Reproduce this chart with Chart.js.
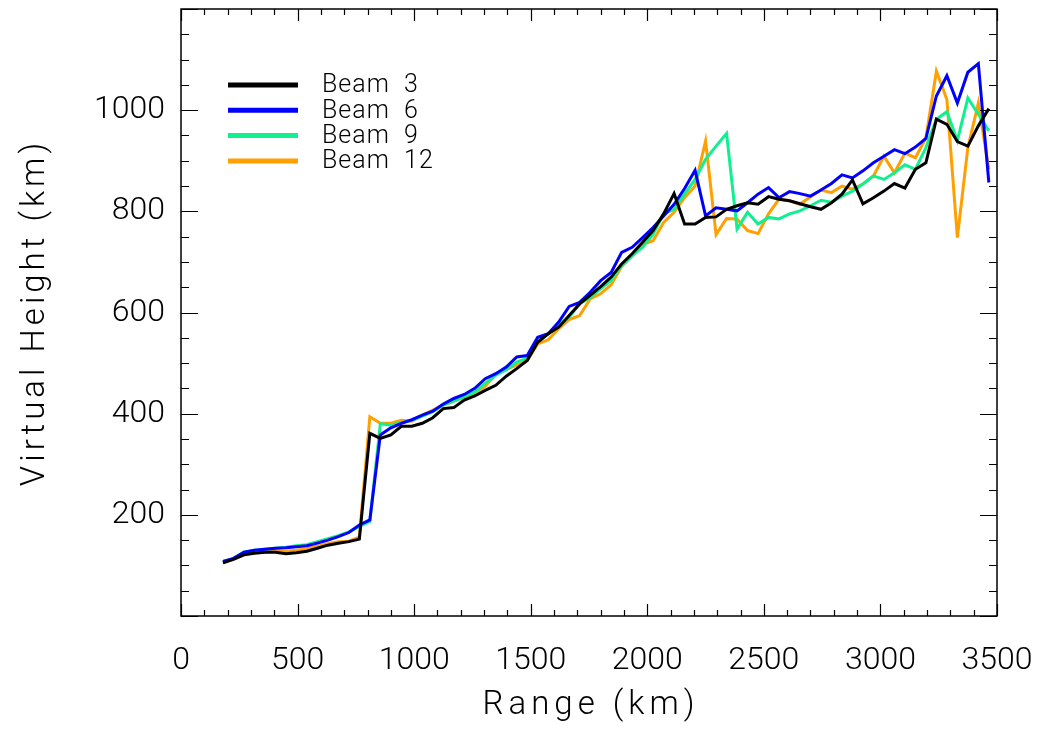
<!DOCTYPE html>
<html>
<head>
<meta charset="utf-8">
<script src="https://cdn.jsdelivr.net/npm/chart.js@4"></script>
<style>
  html, body { margin: 0; padding: 0; background: #fff; }
  #wrap { width: 1049px; height: 735px; }
</style>
</head>
<body>
<div id="wrap"><canvas id="myChart" width="1049" height="735"></canvas></div>
<script>
// Range gates (km)
const ranges = [180, 225, 270, 315, 360, 405, 450, 495, 540, 585, 630, 675, 720, 765, 810, 855, 900, 945, 990, 1035,
    1080, 1125, 1170, 1215, 1260, 1305, 1350, 1395, 1440, 1485, 1530, 1575, 1620, 1665, 1710, 1755, 1800, 1845, 1890, 1935,
    1980, 2025, 2070, 2115, 2160, 2205, 2250, 2295, 2340, 2385, 2430, 2475, 2520, 2565, 2610, 2655, 2700, 2745, 2790, 2835,
    2880, 2925, 2970, 3015, 3060, 3105, 3150, 3195, 3240, 3285, 3330, 3375, 3420, 3465]

// Virtual height (km) for each beam
const beam3 = [105, 112, 121, 124, 126, 126, 123, 125, 128, 134, 140, 144, 147, 152, 361, 351, 358, 375, 375, 381,
    392, 410, 412, 427, 435, 446, 456, 474, 489, 505, 541, 558, 571, 594, 617, 634, 651, 670, 696, 716,
    739, 762, 795, 835, 775, 775, 788, 789, 804, 811, 817, 814, 829, 824, 821, 815, 809, 804, 817, 834,
    862, 815, 827, 840, 855, 846, 883, 896, 982, 972, 938, 929, 969, 1003]
const beam6 = [108, 114, 126, 130, 132, 134, 135, 137, 139, 144, 150, 157, 165, 180, 190, 358, 372, 381, 388, 397,
    405, 419, 430, 438, 450, 469, 479, 492, 512, 515, 551, 558, 581, 612, 620, 640, 663, 679, 719, 729,
    748, 768, 791, 814, 845, 881, 791, 807, 804, 801, 817, 834, 847, 827, 839, 835, 830, 842, 855, 872,
    866, 880, 896, 909, 922, 914, 927, 944, 1028, 1068, 1014, 1075, 1092, 857]
const beam9 = [108, 113, 126, 130, 132, 134, 136, 139, 141, 147, 153, 159, 166, 177, 187, 380, 377, 382, 387, 395,
    404, 417, 425, 433, 443, 460, 476, 487, 502, 510, 546, 558, 576, 591, 618, 629, 647, 664, 693, 712,
    729, 755, 795, 804, 834, 863, 903, 929, 954, 765, 798, 775, 788, 785, 795, 801, 811, 822, 818, 830,
    840, 854, 870, 863, 876, 892, 883, 926, 982, 997, 940, 1024, 992, 959]
const beam12 = [105, 113, 121, 125, 126, 128, 128, 130, 133, 138, 143, 147, 148, 156, 394, 381, 381, 387, 385, 397,
    407, 417, 425, 432, 440, 454, 479, 487, 496, 505, 538, 546, 568, 586, 594, 627, 637, 655, 691, 712,
    735, 742, 778, 798, 827, 850, 939, 754, 786, 785, 762, 756, 795, 824, 821, 814, 829, 842, 837, 850,
    844, 854, 870, 909, 876, 915, 906, 945, 1077, 1021, 748, 926, 1014, 883]

const beamLabels = ["Beam  3", "Beam  6", "Beam  9", "Beam  12"]
const beamColors = ["#000000", "#0000ff", "#10f090", "#ffa000"]

const xTitle = "Range (km)"
const yTitle = "Virtual Height (km)"

const fontFamily = "Roboto, 'Liberation Sans', sans-serif"

const toPoints = values => ranges.map((r, i) => ({ x: r, y: values[i] }))

// Boxed frame with inward ticks, axis titles and the legend inside the plot
const frameAndLegend = {
    id: 'frameAndLegend',
    afterDraw(chart) {
        const { ctx, chartArea: a, scales: { x, y } } = chart
        ctx.save()
        ctx.strokeStyle = '#000'
        ctx.lineWidth = 1.5
        ctx.strokeRect(a.left, a.top, a.right - a.left, a.bottom - a.top)

        ctx.lineWidth = 1.2
        ctx.beginPath()
        for (let v = 0; v <= 3500; v += 100) {
            const px = Math.round(x.getPixelForValue(v)) + 0.5
            const len = v % 500 === 0 ? 12 : 6
            ctx.moveTo(px, a.bottom); ctx.lineTo(px, a.bottom - len)
            ctx.moveTo(px, a.top); ctx.lineTo(px, a.top + len)
        }
        for (let v = 0; v <= 1200; v += 50) {
            const py = Math.round(y.getPixelForValue(v)) + 0.5
            const len = v % 200 === 0 ? 17 : 8
            ctx.moveTo(a.left, py); ctx.lineTo(a.left + len, py)
            ctx.moveTo(a.right, py); ctx.lineTo(a.right - len, py)
        }
        ctx.stroke()

        // Axis titles
        ctx.fillStyle = '#000'
        ctx.font = "300 33px " + fontFamily
        ctx.letterSpacing = '5px'
        ctx.textAlign = 'center'
        ctx.textBaseline = 'middle'
        ctx.fillText(xTitle, (a.left + a.right) / 2 + 2, 706)
        ctx.save()
        ctx.letterSpacing = '4px'
        ctx.translate(36, (a.top + a.bottom) / 2)
        ctx.rotate(-Math.PI / 2)
        ctx.fillText(yTitle, 0, 0)
        ctx.restore()

        // Legend
        ctx.font = "300 25px " + fontFamily
        ctx.letterSpacing = '1px'
        ctx.textAlign = 'left'
        chart.data.datasets.forEach((ds, i) => {
            const ly = a.top + 76 + i * 25.3
            ctx.strokeStyle = ds.borderColor
            ctx.lineWidth = 5
            ctx.beginPath()
            ctx.moveTo(a.left + 47, ly)
            ctx.lineTo(a.left + 117, ly)
            ctx.stroke()
            ctx.fillText(ds.label, a.left + 141, ly + 1)
        })
        ctx.restore()
    }
}

const ctx = document.getElementById('myChart')

new Chart(ctx, {
    type: 'line',
    data: {
        datasets: [beam3, beam6, beam9, beam12].map((vals, i) => ({
            label: beamLabels[i],
            data: toPoints(vals),
            borderColor: beamColors[i],
            backgroundColor: beamColors[i],
            borderWidth: 3,
            pointRadius: 0,
            fill: false,
            tension: 0
        }))
    },
    options: {
        responsive: false,
        animation: false,
        layout: { padding: { top: 9, right: 52, left: 0, bottom: 0 } },
        plugins: {
            legend: { display: false },
            tooltip: { enabled: false }
        },
        scales: {
            x: {
                type: 'linear',
                min: 0,
                max: 3500,
                grid: { display: false, drawTicks: false },
                border: { display: false },
                ticks: {
                    stepSize: 500,
                    padding: 26,
                    color: '#000',
                    maxRotation: 0,
                    font: { family: fontFamily, size: 32, weight: 300 },
                    callback: v => String(v)
                },
                afterFit: s => {
                    s.height = 119
                    s.paddingLeft = 0
                    s.paddingRight = 0
                }
            },
            y: {
                type: 'linear',
                min: 0,
                max: 1200,
                grid: { display: false, drawTicks: false },
                border: { display: false },
                ticks: {
                    stepSize: 200,
                    padding: 16,
                    color: '#000',
                    font: { family: fontFamily, size: 32, weight: 300 },
                    callback: v => (v === 0 || v === 1200) ? '' : String(v)
                },
                afterFit: s => {
                    s.width = 181
                    s.paddingTop = 0
                    s.paddingBottom = 0
                }
            }
        }
    },
    plugins: [frameAndLegend]
})
</script>
</body>
</html>
